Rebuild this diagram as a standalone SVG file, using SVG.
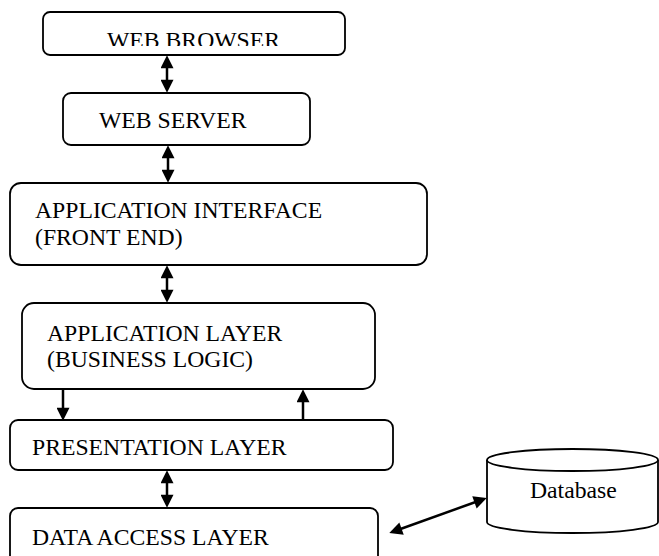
<svg xmlns="http://www.w3.org/2000/svg" width="659" height="556" viewBox="0 0 659 556">
<style>
.box{fill:#fff;stroke:#000;stroke-width:1.8}
.t{font-family:"Liberation Serif","Times New Roman",serif;font-size:23.7px;fill:#000}
.c{stroke:#000;stroke-width:2.5;fill:none}
</style>
<defs>
<marker id="ah" viewBox="0 0 14 14" refX="10" refY="7" markerWidth="14" markerHeight="13" markerUnits="userSpaceOnUse" orient="auto-start-reverse">
<path d="M0,0 L14,7 L0,14 z" fill="#000"/>
</marker>
<clipPath id="clipBrowser"><rect x="43" y="12" width="302" height="34"/></clipPath>
</defs>
<rect width="659" height="556" fill="#fff"/>
<g id="web-browser">
<rect class="box" x="43" y="12" width="302" height="43" rx="7"/>
<text class="t" x="107" y="47.5" clip-path="url(#clipBrowser)">WEB BROWSER</text>
</g>
<g id="web-server">
<rect class="box" x="63" y="93" width="247" height="52" rx="8"/>
<text class="t" x="99" y="128">WEB SERVER</text>
</g>
<g id="app-interface">
<rect class="box" x="10" y="183" width="417" height="82" rx="11"/>
<text class="t" x="35" y="218">APPLICATION INTERFACE</text>
<text class="t" x="35" y="245">(FRONT END)</text>
</g>
<g id="app-layer">
<rect class="box" x="22" y="303" width="353" height="86" rx="12"/>
<text class="t" x="47" y="341">APPLICATION LAYER</text>
<text class="t" x="47" y="367">(BUSINESS LOGIC)</text>
</g>
<g id="presentation-layer">
<rect class="box" x="10" y="420" width="383" height="50" rx="8"/>
<text class="t" x="32" y="455">PRESENTATION LAYER</text>
</g>
<g id="data-access-layer">
<rect class="box" x="10" y="508" width="368" height="70" rx="8"/>
<text class="t" x="32" y="545">DATA ACCESS LAYER</text>
</g>
<g id="database">
<path class="box" d="M487,460 L487,522 A85.5,11 0 0 0 658,522 L658,460"/>
<ellipse class="box" cx="572.5" cy="460" rx="85.5" ry="11"/>
<text class="t" x="530" y="498">Database</text>
</g>
<g id="connectors">
<line class="c" x1="167" y1="59" x2="167" y2="89" marker-start="url(#ah)" marker-end="url(#ah)"/>
<line class="c" x1="168" y1="149" x2="168" y2="179" marker-start="url(#ah)" marker-end="url(#ah)"/>
<line class="c" x1="167" y1="269" x2="167" y2="299" marker-start="url(#ah)" marker-end="url(#ah)"/>
<line class="c" x1="63" y1="389" x2="63" y2="417" marker-end="url(#ah)"/>
<line class="c" x1="303" y1="421" x2="303" y2="393" marker-end="url(#ah)"/>
<line class="c" x1="167" y1="474" x2="167" y2="504" marker-start="url(#ah)" marker-end="url(#ah)"/>
<line class="c" x1="392.8" y1="531.7" x2="483.2" y2="499.3" marker-start="url(#ah)" marker-end="url(#ah)"/>
</g>
</svg>
